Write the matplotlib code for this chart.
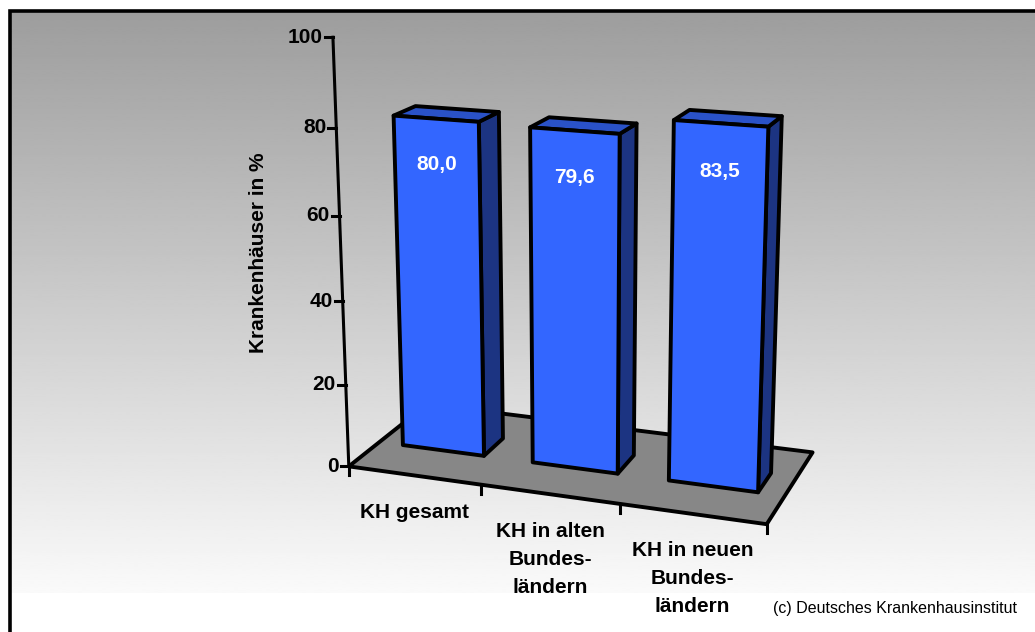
import numpy as np
import matplotlib
matplotlib.use("Agg")
import matplotlib.pyplot as plt

plt.rcParams['font.family'] = ['Liberation Sans', 'DejaVu Sans']

# chart data
categories = [
    ["KH gesamt"],
    ["KH in alten", "Bundes-", "ländern"],
    ["KH in neuen", "Bundes-", "ländern"],
]
values = [80.0, 79.6, 83.5]
value_ticks = [0, 20, 40, 60, 80, 100]
axis_title = "Krankenhäuser in %"
source = "(c) Deutsches Krankenhausinstitut"

# perspective view: (category, depth, value) -> pixel, homogeneous 3x4
PROJ = np.array([
    [120.951726, 117.870016, -0.370963703, 348.796500],
    [6.71995949, -24.7436426, -4.31518285, 466.386558],
    [-0.0239420076, 0.0926633059, -0.000637561249, 1.0],
])

# bar block inside each category slot (fractions of slot width / floor depth)
BAR_W = 0.63
BAR_FRONT, BAR_BACK = 0.372, 0.642


def project(x, y, z):
    h = PROJ @ np.array([x, y, z, 1.0])
    return h[0] / h[2], h[1] / h[2]


def face(ax, pts, color, lw=2.8, z=2):
    xy = np.array([project(*q) for q in pts])
    ax.fill(xy[:, 0], xy[:, 1], facecolor=color, edgecolor='black',
            linewidth=lw, joinstyle='round', zorder=z)


fig = plt.figure(figsize=(10.35, 6.32), dpi=100)
ax = fig.add_axes([0, 0, 1, 1])
ax.set_xlim(0, 1035)
ax.set_ylim(632, 0)
ax.axis('off')

# grey-to-white background with a black frame on top and left
grad = np.linspace(157, 250, 256)[:, None]
ax.imshow(grad, cmap='gray', vmin=0, vmax=255, extent=(10, 1035, 593, 10),
          aspect='auto', interpolation='bilinear', zorder=0)
ax.plot([10, 10, 1035], [632, 10.5, 10.5], color='black', lw=2.6,
        solid_joinstyle='miter', zorder=5)

n = len(values)

# floor
face(ax, [(0, 0, 0), (n, 0, 0), (n, 1, 0), (0, 1, 0)], '#878787', z=1)

# value axis
x0, y0 = project(0, 0, 0)
x1, y1 = project(0, 0, value_ticks[-1])
ax.plot([x0, x1], [y0, y1], color='black', lw=2.2, zorder=3)
for t in value_ticks:
    u, v = project(0, 0, t)
    ax.plot([u - 8, u], [v, v], color='black', lw=2.2, zorder=3)
    ax.text(u - 10, v, str(t), ha='right', va='center', fontsize=15,
            fontweight='bold', zorder=3)

ax.text(258, 253, axis_title, rotation=90, ha='center', va='center',
        fontsize=15, fontweight='bold')

# category ticks and labels
for i in range(n + 1):
    u, v = project(i, 0, 0)
    ax.plot([u, u], [v, v + 9], color='black', lw=2.2, zorder=3)
for i, lines in enumerate(categories):
    u, v = project(i + 0.5, 0, 0)
    for k, line in enumerate(lines):
        ax.text(u, v + 37 + 28 * k, line, ha='center', va='center',
                fontsize=15, fontweight='bold')

# bars: right side, top, front
for i, val in enumerate(values):
    l = i + 0.5 - BAR_W / 2
    r = l + BAR_W
    f, b = BAR_FRONT, BAR_BACK
    face(ax, [(r, f, 0), (r, b, 0), (r, b, val), (r, f, val)], '#1c3482')
    face(ax, [(l, f, val), (r, f, val), (r, b, val), (l, b, val)], '#2a52c8')
    face(ax, [(l, f, 0), (r, f, 0), (r, f, val), (l, f, val)], '#3366ff')
    u, v = project(i + 0.5, f, val - 10.5)
    ax.text(u, v, f"{val:.1f}".replace('.', ','), ha='center', va='center',
            color='white', fontsize=15, fontweight='bold', zorder=4)

ax.text(773, 609, source, ha='left', va='center', fontsize=11.5)

fig.savefig('out.png', dpi=100)
